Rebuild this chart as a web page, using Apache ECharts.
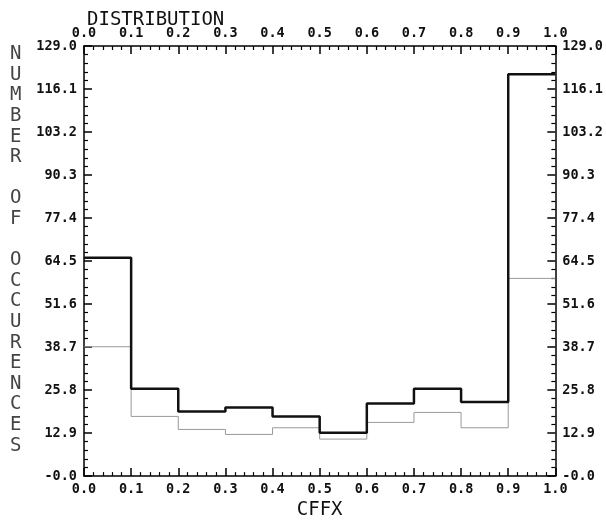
<!DOCTYPE html>
<html>
<head>
<meta charset="utf-8">
<script src="https://cdn.jsdelivr.net/npm/echarts@6/dist/echarts.min.js"></script>
<style>
html,body{margin:0;padding:0;background:#fff;}
#c{width:606px;height:525px;}
</style>
</head>
<body>
<div id="c"></div>
<script>
// bin edges (CFFX)
var binEdges = [0.0, 0.1, 0.2, 0.3, 0.4, 0.5, 0.6, 0.7, 0.8, 0.9, 1.0];
// counts per bin, thick black series
var seriesA = [65.5, 26.2, 19.4, 20.6, 17.9, 13.0, 21.8, 26.2, 22.2, 120.5];
// counts per bin, thin grey series
var seriesB = [38.8, 17.9, 14.0, 12.5, 14.5, 11.1, 16.1, 19.1, 14.5, 59.3];
// axis ranges / tick steps
var yMin = 0, yMax = 129.0, yStep = 12.9;
var xMin = 0, xMax = 1.0, xStep = 0.1;
var yTitle = "NUMBER OF OCCURENCES";

function stepData(vals) {
  var d = [];
  for (var i = 0; i < vals.length; i++) d.push([binEdges[i], vals[i]]);
  d.push([binEdges[binEdges.length - 1], vals[vals.length - 1]]);
  return d;
}

var mono = "DejaVu Sans Mono";
var labStyle = {fontFamily: mono, fontSize: 13.5, fontWeight: 'bold', color: '#111'};

function xAx(pos) {
  return {
    type: 'value', position: pos, min: xMin, max: xMax, interval: xStep,
    axisLine: {show: true, onZero: false, lineStyle: {color: '#000', width: 1.5}},
    axisTick: {show: true, inside: true, length: 8, lineStyle: {color: '#000', width: 1.5}},
    minorTick: {show: true, splitNumber: 5, length: 4, lineStyle: {color: '#000', width: 1.2}},
    splitLine: {show: false},
    axisLabel: Object.assign({margin: 6, formatter: function (v) { return v.toFixed(1); }}, labStyle)
  };
}
function yAx(pos) {
  return {
    type: 'value', position: pos, min: yMin, max: yMax, interval: yStep,
    axisLine: {show: true, onZero: false, lineStyle: {color: '#000', width: 1.5}},
    axisTick: {show: true, inside: true, length: 8, lineStyle: {color: '#000', width: 1.5}},
    minorTick: {show: true, splitNumber: 5, length: 4, lineStyle: {color: '#000', width: 1.2}},
    splitLine: {show: false},
    axisLabel: Object.assign({margin: 7, formatter: function (v) {
      return Math.abs(v) < 1e-9 ? '-0.0' : v.toFixed(1);
    }}, labStyle)
  };
}

var xb = xAx('bottom');
xb.name = 'CFFX';
xb.nameLocation = 'middle';
xb.nameGap = 17;
xb.nameTextStyle = {fontFamily: mono, fontSize: 19, color: '#111', verticalAlign: 'top'};
var xt = xAx('top');

var chart = echarts.init(document.getElementById('c'), null, {renderer: 'canvas'});
chart.setOption({
  backgroundColor: '#fff',
  animation: false,
  title: {
    text: 'DISTRIBUTION', left: 82, top: 6,
    textStyle: {fontFamily: mono, fontSize: 19, fontWeight: 'normal', color: '#111'}
  },
  grid: {left: 84, right: 48, top: 46, bottom: 37, containLabel: false},
  xAxis: [xb, xt],
  yAxis: [yAx('left'), yAx('right')],
  graphic: [{
    type: 'text', left: 10, top: 44,
    style: {
      text: yTitle.split('').join('\n'),
      fontFamily: mono, fontSize: 19, lineHeight: 20.6,
      fill: '#444', align: 'center'
    }
  }],
  series: [
    {
      type: 'line', step: 'end', xAxisIndex: 0, yAxisIndex: 0,
      data: stepData(seriesB), symbol: 'none',
      lineStyle: {color: '#999', width: 1}, z: 2
    },
    {
      type: 'line', step: 'end', xAxisIndex: 0, yAxisIndex: 0,
      data: stepData(seriesA), symbol: 'none',
      lineStyle: {color: '#111', width: 2.5}, z: 3
    }
  ]
});
</script>
</body>
</html>
